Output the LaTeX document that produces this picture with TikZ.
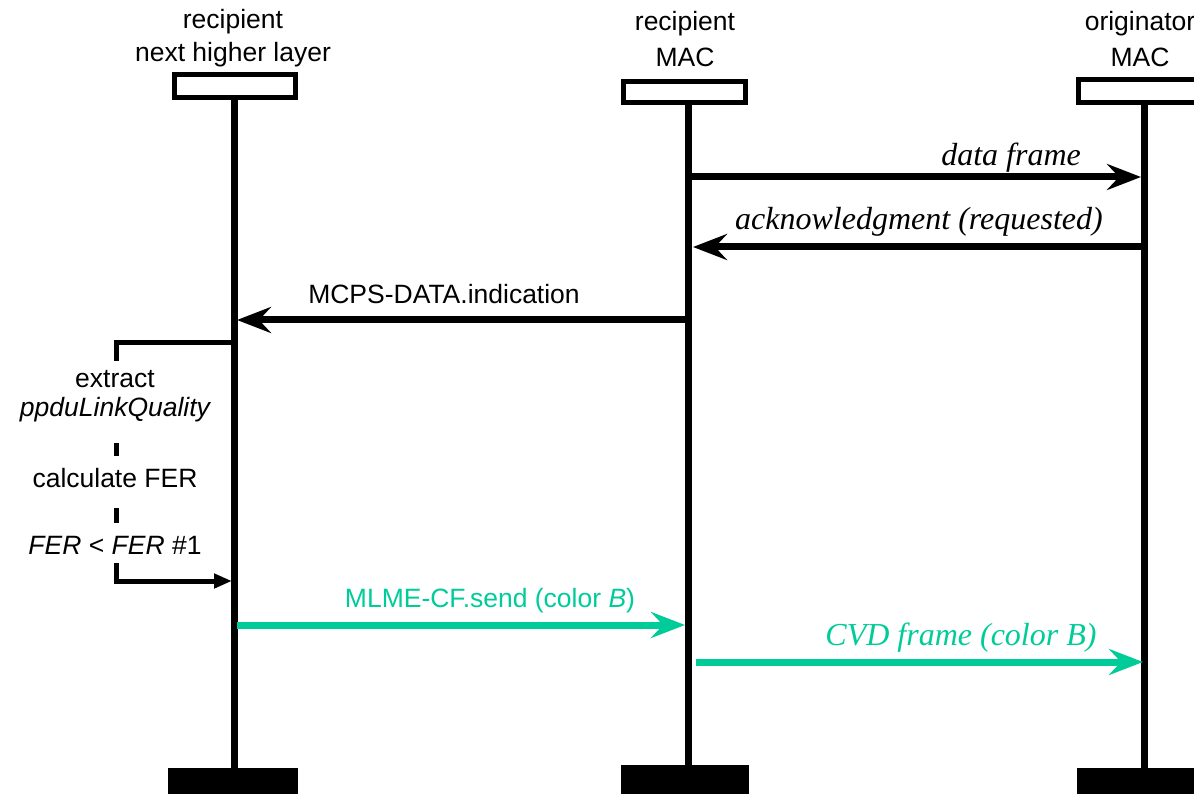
\documentclass[tikz,border=0pt]{standalone}
\usepackage{fontspec}
\setmainfont{Liberation Serif}
\setsansfont{Liberation Sans}
\usetikzlibrary{arrows.meta}
\definecolor{cvdgreen}{RGB}{0,204,153}
\tikzset{
  lifeline/.style={line width=7pt},
  headbox/.style={draw, line width=5pt, fill=white},
  footbox/.style={fill=black},
  msg/.style={line width=7pt, -{Stealth[length=34pt,width=26pt,inset=12pt]}},
  gmsg/.style={msg, draw=cvdgreen},
  sanslbl/.style={font=\sffamily\fontsize{26.5}{31}\selectfont, inner sep=0pt},
  seriflbl/.style={font=\itshape\fontsize{32}{36}\selectfont, inner sep=0pt},
  bracket/.style={line width=5pt},
}
\begin{document}
\begin{tikzpicture}[x=1pt,y=-1pt]
\useasboundingbox (0,0) rectangle (1194,794);
% titles
\node[sanslbl] (t1a) at (233,22) {recipient};
\node[sanslbl] (t1b) at (233,55) {next higher layer};
\node[sanslbl] (t2a) at (685,24) {recipient};
\node[sanslbl] (t2b) at (685,57) {MAC};
\node[sanslbl] (t3a) at (1140,24) {originator};
\node[sanslbl] (t3b) at (1140,57) {MAC};
% lifelines
\coordinate (L1top) at (234,99);
\coordinate (L1bot) at (234,770);
\coordinate (L2top) at (688,103);
\coordinate (L2bot) at (688,767);
\coordinate (L3top) at (1144,104);
\coordinate (L3bot) at (1144,770);
\draw[lifeline] (L1top) -- (L1bot);
\draw[lifeline] (L2top) -- (L2bot);
\draw[lifeline] (L3top) -- (L3bot);
% head boxes
\draw[headbox] (174.5,74.5) rectangle (295.5,97.5);
\draw[headbox] (623.5,81.5) rectangle (745.5,102.5);
\draw[headbox] (1078.5,79.5) rectangle (1200,102.5);
% foot boxes
\fill[footbox] (168,768) rectangle (298,794);
\fill[footbox] (621,765) rectangle (749,794);
\fill[footbox] (1077,768) rectangle (1194,794);
% message anchors
\coordinate (df1) at (692,177);
\coordinate (df2) at (1141,177);
\coordinate (ak1) at (1141,247);
\coordinate (ak2) at (693,247);
\coordinate (mc1) at (685,320);
\coordinate (mc2) at (237,320);
\coordinate (ml1) at (237,625);
\coordinate (ml2) at (685,625);
\coordinate (cv1) at (696,662);
\coordinate (cv2) at (1143,662);
\draw[msg] (df1) -- (df2);
\draw[msg] (ak1) -- (ak2);
\draw[msg] (mc1) -- (mc2);
\draw[gmsg] (ml1) -- (ml2);
\draw[gmsg] (cv1) -- (cv2);
% message labels
\node[seriflbl, anchor=east] (ldf) at (1081,158) {data frame};
\node[seriflbl] (lak) at (919,222) {acknowledgment (requested)};
\node[sanslbl] (lmc) at (444,294) {MCPS-DATA.indication};
\node[sanslbl, text=cvdgreen] (lml) at (490,601) {MLME-CF.send (color \textit{B})};
\node[seriflbl, text=cvdgreen] (lcv) at (961,638) {CVD frame (color B)};
% local action bracket
\coordinate (b0) at (232,342);
\coordinate (b1) at (116,342);
\coordinate (b2) at (116,361);
\coordinate (b3) at (116,443);
\coordinate (b4) at (116,456);
\coordinate (b5) at (116,508);
\coordinate (b6) at (116,523);
\coordinate (b7) at (116,563);
\coordinate (b8) at (116,581);
\coordinate (b9) at (232,581);
\draw[bracket] (b0) -- (b1) -- (b2);
\draw[bracket] (b3) -- (b4);
\draw[bracket] (b5) -- (b6);
\draw[bracket, -{Stealth[length=18pt,width=14pt,inset=0pt]}] (b7) -- (b8) -- (b9);
\node[sanslbl] (x1) at (115,379) {extract};
\node[sanslbl] (x2) at (115,410) {\itshape ppduLinkQuality};
\node[sanslbl] (x3) at (115,478) {calculate FER};
\node[sanslbl] (x4) at (115,545) {\itshape FER\upshape{} < \itshape FER\upshape{} \#1};
\end{tikzpicture}
\end{document}
